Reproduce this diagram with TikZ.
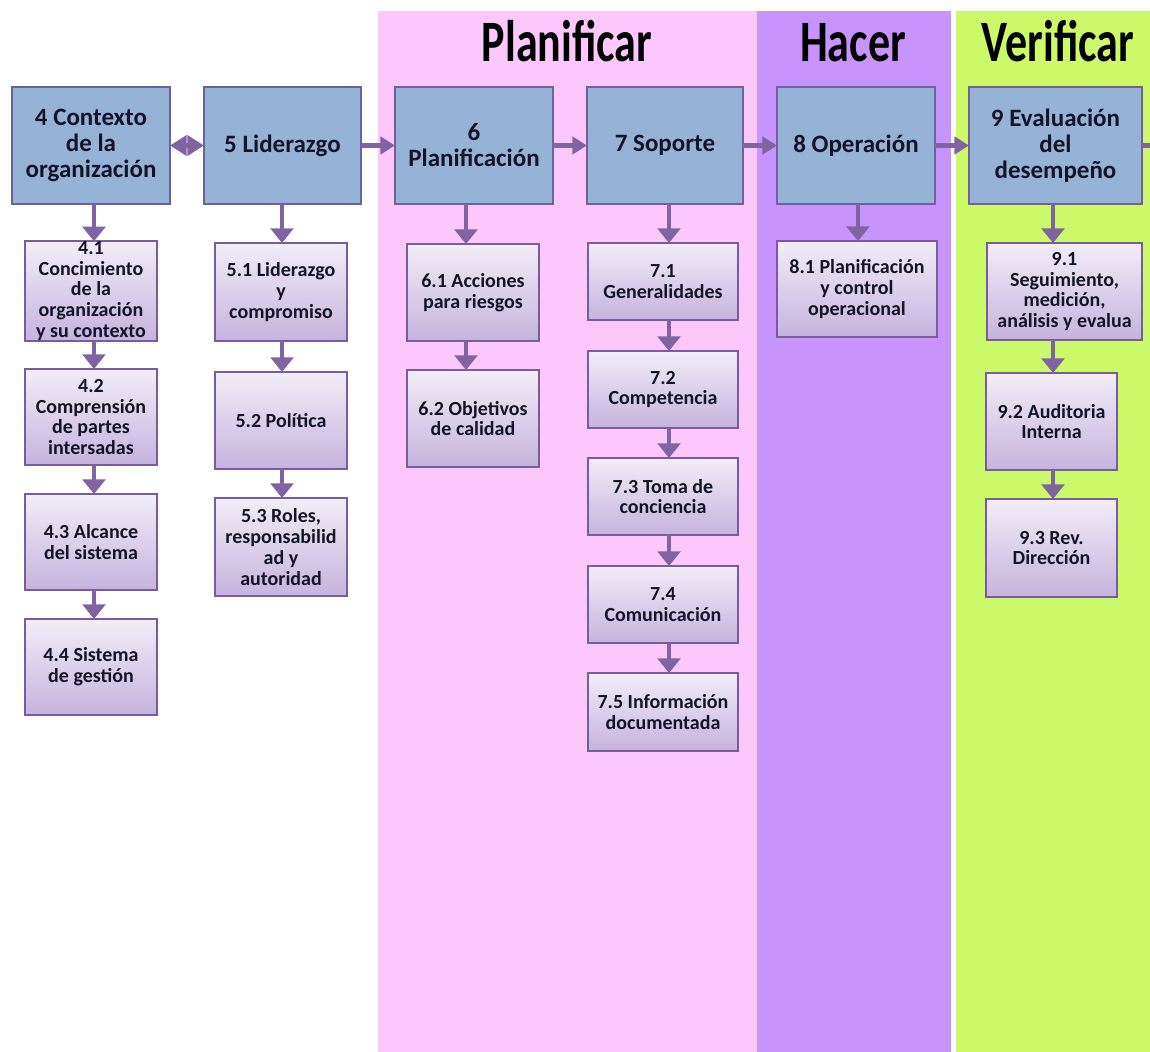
\documentclass[tikz,border=0pt]{standalone}
\usepackage{fontspec}
\setmainfont{Carlito}
\usepackage{graphicx}
\usetikzlibrary{arrows.meta}
\definecolor{bandP}{HTML}{FCC8FC}
\definecolor{bandH}{HTML}{C794FC}
\definecolor{bandV}{HTML}{CCF96A}
\definecolor{mainfill}{HTML}{95B3D7}
\definecolor{mainborder}{HTML}{6F5F9E}
\definecolor{subtop}{HTML}{F2EDF7}
\definecolor{subbot}{HTML}{C5B3DE}
\definecolor{subborder}{HTML}{7A5C9E}
\definecolor{arrowc}{HTML}{8064A2}
\definecolor{txt}{HTML}{141428}
\tikzset{
 mainbox/.style={draw=mainborder, line width=1.5pt, fill=mainfill, align=center, inner sep=0pt, outer sep=0pt, font=\fontsize{18.75}{19.5}\selectfont\bfseries, text=txt},
 subbox/.style={draw=subborder, line width=1.7pt, top color=subtop, bottom color=subbot, align=center, inner sep=0pt, outer sep=0pt, font=\fontsize{15}{15.6}\selectfont\bfseries, text=txt},
 header/.style={anchor=base, inner sep=0pt, font=\fontsize{44}{48}\selectfont\bfseries, text=black},
 varrow/.style={draw=arrowc, line width=3.6pt, -{Triangle[length=11pt,width=17pt]}},
 harrow/.style={draw=arrowc, line width=3.6pt, -{Triangle[length=11pt,width=13pt]}},
 darrow/.style={draw=arrowc, line width=3.6pt, {Triangle[length=12.5pt,width=15pt]}-{Triangle[length=12.5pt,width=15pt]}},
 stub/.style={draw=arrowc, line width=3.6pt},
}
\newcommand\boxat[7]{\node[#6, minimum width={(#4-#2)*0.75pt}, minimum height={(#5-#3)*0.75pt}] (#1) at ({(#2+#4)/2},{(#3+#5)/2}) {#7};}
\begin{document}
\begin{tikzpicture}[x=0.75pt,y=-0.75pt]
\useasboundingbox (0,0) rectangle (1150,1052);
\fill[white] (0,0) rectangle (1150,1052);
% bands
\fill[bandP] (378,11) rectangle (757,1052);
\fill[bandH] (757,11) rectangle (951,1052);
\fill[bandV] (956,11) rectangle (1150,1052);
% headers
\node[header] (hP) at (567,62) {\scalebox{0.75}[1]{Planificar}};
\node[header] (hH) at (853,62) {\scalebox{0.75}[1]{Hacer}};
\node[header] (hV) at (1058,62) {\scalebox{0.75}[1]{Verificar}};
% main boxes
\boxat{b4}{12}{87}{170}{204}{mainbox}{4 Contexto\\de la\\organización}
\boxat{b5}{204}{87}{361}{204}{mainbox}{5 Liderazgo}
\boxat{b6}{395}{87}{553}{204}{mainbox}{6\\Planificación}
\boxat{b7}{587}{87}{743}{204}{mainbox}{7 Soporte}
\boxat{b8}{777}{87}{935}{204}{mainbox}{8 Operación}
\boxat{b9}{969}{87}{1142}{204}{mainbox}{9 Evaluación\\del\\desempeño}
% sub boxes column 4
\boxat{s41}{25}{243}{157}{339}{subbox}{4.1\\Concimiento\\de la\\organización\\y su contexto}
\boxat{s42}{25}{369}{157}{465}{subbox}{4.2\\Comprensión\\de partes\\intersadas}
\boxat{s43}{25}{494}{157}{590}{subbox}{4.3 Alcance\\del sistema}
\boxat{s44}{25}{619}{157}{715}{subbox}{4.4 Sistema\\de gestión}
% column 5
\boxat{s51}{215}{243}{347}{341}{subbox}{5.1 Liderazgo\\y\\compromiso}
\boxat{s52}{215}{372}{347}{469}{subbox}{5.2 Política}
\boxat{s53}{215}{498}{347}{596}{subbox}{5.3 Roles,\\responsabilid\\ad y\\autoridad}
% column 6
\boxat{s61}{407}{244}{539}{341}{subbox}{6.1 Acciones\\para riesgos}
\boxat{s62}{407}{370}{539}{467}{subbox}{6.2 Objetivos\\de calidad}
% column 7
\boxat{s71}{588}{243}{738}{320}{subbox}{7.1\\Generalidades}
\boxat{s72}{588}{351}{738}{428}{subbox}{7.2\\Competencia}
\boxat{s73}{588}{458}{738}{535}{subbox}{7.3 Toma de\\conciencia}
\boxat{s74}{588}{566}{738}{643}{subbox}{7.4\\Comunicación}
\boxat{s75}{588}{673}{738}{751}{subbox}{7.5 Información\\documentada}
% column 8
\boxat{s81}{777}{241}{937}{337}{subbox}{8.1 Planificación\\y control\\operacional}
% column 9
\boxat{s91}{987}{243}{1142}{340}{subbox}{9.1\\Seguimiento,\\medición,\\análisis y evalua}
\boxat{s92}{986}{373}{1117}{470}{subbox}{9.2 Auditoria\\Interna}
\boxat{s93}{986}{499}{1117}{597}{subbox}{9.3 Rev.\\Dirección}
% column x positions for arrows
\coordinate (c4) at (94,0);
\coordinate (c5) at (282,0);
\coordinate (c6) at (466,0);
\coordinate (c7) at (669,0);
\coordinate (c8) at (858,0);
\coordinate (c9) at (1053,0);
\coordinate (edge) at (1150,145.5);
% horizontal connectors
\draw[darrow] (b4.east) -- (b5.west);
\draw[harrow] (b5.east) -- (b6.west);
\draw[harrow] (b6.east) -- (b7.west);
\draw[harrow] (b7.east) -- (b8.west);
\draw[harrow] (b8.east) -- (b9.west);
\draw[stub] (b9.east) -- (edge);
% vertical connectors
\draw[varrow] (b4.south -| c4) -- (s41.north -| c4);
\draw[varrow] (s41.south -| c4) -- (s42.north -| c4);
\draw[varrow] (s42.south -| c4) -- (s43.north -| c4);
\draw[varrow] (s43.south -| c4) -- (s44.north -| c4);
\draw[varrow] (b5.south -| c5) -- (s51.north -| c5);
\draw[varrow] (s51.south -| c5) -- (s52.north -| c5);
\draw[varrow] (s52.south -| c5) -- (s53.north -| c5);
\draw[varrow] (b6.south -| c6) -- (s61.north -| c6);
\draw[varrow] (s61.south -| c6) -- (s62.north -| c6);
\draw[varrow] (b7.south -| c7) -- (s71.north -| c7);
\draw[varrow] (s71.south -| c7) -- (s72.north -| c7);
\draw[varrow] (s72.south -| c7) -- (s73.north -| c7);
\draw[varrow] (s73.south -| c7) -- (s74.north -| c7);
\draw[varrow] (s74.south -| c7) -- (s75.north -| c7);
\draw[varrow] (b8.south -| c8) -- (s81.north -| c8);
\draw[varrow] (b9.south -| c9) -- (s91.north -| c9);
\draw[varrow] (s91.south -| c9) -- (s92.north -| c9);
\draw[varrow] (s92.south -| c9) -- (s93.north -| c9);
\end{tikzpicture}
\end{document}
